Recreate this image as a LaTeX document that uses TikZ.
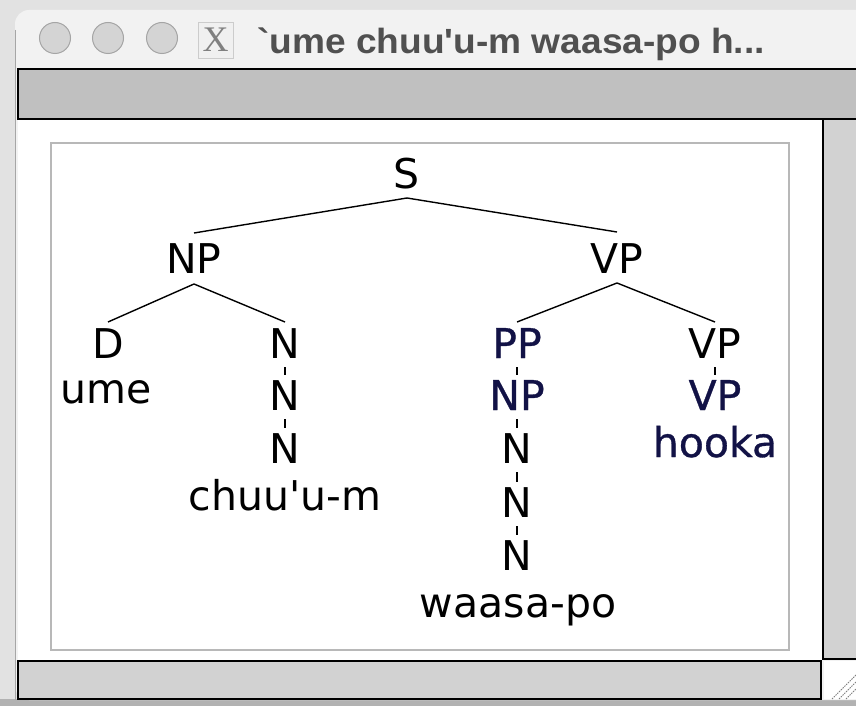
\documentclass[tikz,border=0pt]{standalone}
\usepackage{fontspec}
\setmainfont{DejaVu Sans}
\newfontfamily\titlefont{Liberation Sans}
\newfontfamily\iconfont{Liberation Serif}
\newfontfamily\bluefont[FakeBold=0.8]{DejaVu Sans}
\definecolor{desk}{RGB}{226,226,226}
\definecolor{titlebg}{RGB}{242,242,242}
\definecolor{tbgray}{RGB}{192,192,192}
\definecolor{sbgray}{RGB}{210,210,210}
\definecolor{panelborder}{RGB}{184,184,184}
\definecolor{navy}{RGB}{18,18,70}
\definecolor{titletext}{RGB}{80,80,80}
\definecolor{lightcircle}{RGB}{212,212,212}
\definecolor{circleedge}{RGB}{165,165,165}
\begin{document}
\begin{tikzpicture}[x=1pt,y=-1pt,
  lbl/.style={anchor=base, inner sep=0pt, font=\fontsize{41}{41}\selectfont, text=black},
  blu/.style={lbl, text=navy, font=\bluefont\fontsize{41}{41}\selectfont},
  edge/.style={line width=1.4pt, black},
  winbtn/.style={circle, minimum size=31pt, inner sep=0pt, fill=lightcircle, draw=circleedge, line width=1pt}]
\useasboundingbox (0,0) rectangle (856,706);
% desktop behind
\fill[desk] (0,0) rectangle (856,706);
\fill[gray!60] (0,699) rectangle (856,706);
% window
\fill[titlebg, rounded corners=14pt] (15,10) rectangle (900,700);
\draw[gray!70, line width=1pt] (15,30) -- (15,700);
% title bar buttons
\node[winbtn] (b1) at (55,38) {};
\node[winbtn] (b2) at (108,38) {};
\node[winbtn] (b3) at (162,38) {};
\node[draw=gray!40, fill=gray!12, minimum width=35pt, minimum height=36pt, inner sep=0pt,
      font=\iconfont\fontsize{36}{36}\selectfont, text=gray] (xicon) at (215.5,40) {X};
\node[anchor=base west, inner sep=0pt, text=titletext, xscale=1.06,
      font=\titlefont\bfseries\fontsize{35}{35}\selectfont] (title) at (257,54)
      {\textasciigrave ume chuu\textquotesingle u-m waasa-po h...};
% toolbar
\filldraw[fill=tbgray, draw=black, line width=2pt] (18,69) rectangle (880,119);
% content
\fill[white] (18,120) rectangle (823,660);
\draw[panelborder, line width=1.5pt] (51,143) rectangle (789,650);
% scrollbars
\filldraw[fill=sbgray, draw=black, line width=2pt] (823,119) rectangle (880,659);
\filldraw[fill=sbgray, draw=black, line width=2pt] (18,661) rectangle (821,699);
\fill[white] (824,661) rectangle (856,699);
\foreach \d in {0,7,14}{\draw[gray, line width=1pt, dash pattern=on 1.5pt off 1pt] (832+\d,699) -- (856,675+\d);}
% tree
\node[lbl] (S) at (407,188) {S};
\node[lbl] (NP) at (194,273) {NP};
\node[lbl] (VP) at (617,273) {VP};
\node[lbl] (D) at (108,358) {D};
\node[lbl] (N1) at (285,358) {N};
\node[blu] (PP) at (517,358) {PP};
\node[lbl] (VP2) at (715,358) {VP};
\node[lbl] (ume) at (106,403) {ume};
\node[lbl] (N2) at (285,410) {N};
\node[blu] (NP2) at (517,410) {NP};
\node[blu] (VP3) at (715,410) {VP};
\node[lbl] (N3) at (285,463) {N};
\node[lbl] (N4) at (517,463) {N};
\node[blu] (hooka) at (715,457) {hooka};
\node[lbl] (chuu) at (285,510) {chuu\textquotesingle u-m};
\node[lbl] (N5) at (517,517) {N};
\node[lbl] (N6) at (517,570) {N};
\node[lbl] (waasa) at (518,617) {waasa-po};
% branching edges
\draw[edge] ([yshift=-10pt]S.base) -- ([yshift=40pt]NP.base);
\draw[edge] ([yshift=-10pt]S.base) -- ([yshift=41pt]VP.base);
\draw[edge] ([yshift=-11pt]NP.base) -- ([yshift=36pt]D.base);
\draw[edge] ([yshift=-11pt]NP.base) -- ([yshift=36pt]N1.base);
\draw[edge] ([yshift=-10pt]VP.base) -- ([yshift=36pt]PP.base);
\draw[edge] ([yshift=-10pt]VP.base) -- ([yshift=36pt]VP2.base);
% unary edges
\foreach \a/\b in {N1/N2, N2/N3, PP/NP2, NP2/N4, N4/N5, N5/N6, VP2/VP3}
  \draw[edge] ([yshift=-9pt]\a.base) -- ([yshift=35pt]\b.base);
\end{tikzpicture}
\end{document}
